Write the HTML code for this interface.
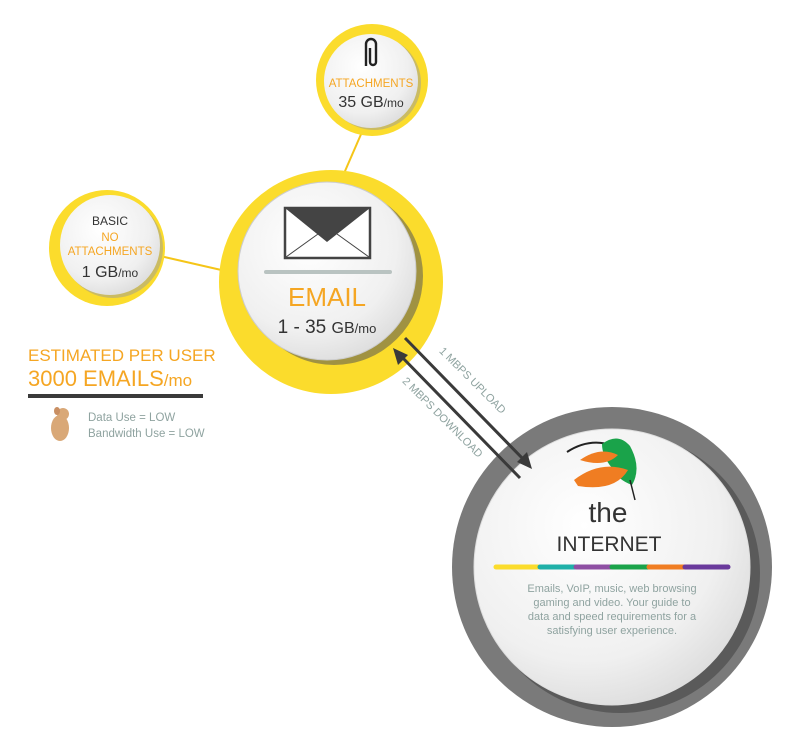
<!DOCTYPE html>
<html><head><meta charset="utf-8"><style>
html,body{margin:0;padding:0;background:#fff;}
svg{display:block;font-family:"Liberation Sans",sans-serif;}
</style></head><body>
<svg width="800" height="750" viewBox="0 0 800 750" xmlns="http://www.w3.org/2000/svg">
<defs>
<radialGradient id="wg" cx="40%" cy="35%" r="70%">
<stop offset="0" stop-color="#ffffff"/><stop offset="0.7" stop-color="#f0f0f0"/><stop offset="1" stop-color="#dcdcdc"/>
</radialGradient>
</defs>
<line x1="362" y1="132" x2="342" y2="178" stroke="#f5c518" stroke-width="2"/>
<line x1="160" y1="256" x2="230" y2="272" stroke="#f5c518" stroke-width="2"/>

<circle cx="372" cy="80" r="56" fill="#fbdc2c"/>
<circle cx="374" cy="83" r="47" fill="#999" opacity="0.5"/>
<circle cx="371" cy="81" r="47" fill="url(#wg)"/>
<path d="M366 66 V44 a5 5 0 0 1 10 0 V62 a3 3 0 0 1 -6 0 V48" fill="none" stroke="#222" stroke-width="2.4"/>
<text x="371" y="87" font-size="11.5" fill="#f5a623" text-anchor="middle">ATTACHMENTS</text>
<text x="371" y="107" font-size="16" fill="#333" text-anchor="middle">35 GB<tspan font-size="12">/mo</tspan></text>

<circle cx="107" cy="248" r="58" fill="#fbdc2c"/>
<circle cx="113" cy="248" r="50" fill="#999" opacity="0.5"/>
<circle cx="110" cy="245" r="50" fill="url(#wg)"/>
<text x="110" y="225" font-size="12" fill="#333" text-anchor="middle">BASIC</text>
<text x="110" y="241" font-size="11.5" fill="#f5a623" text-anchor="middle">NO</text>
<text x="110" y="255" font-size="11.5" fill="#f5a623" text-anchor="middle">ATTACHMENTS</text>
<text x="110" y="277" font-size="16" fill="#333" text-anchor="middle">1 GB<tspan font-size="12">/mo</tspan></text>

<circle cx="331" cy="282" r="112" fill="#fbdc2c"/>
<circle cx="334" cy="276" r="89" fill="#555" opacity="0.55"/>
<circle cx="327" cy="271" r="89" fill="url(#wg)" stroke="#ccc" stroke-width="1"/>
<rect x="285" y="208" width="85" height="50" fill="#fff" stroke="#444" stroke-width="2.5"/>
<path d="M285 208 L327 242 L370 208 Z" fill="#444"/>
<path d="M286 257 L318 234 M369 257 L337 234" stroke="#444" stroke-width="1"/>
<line x1="266" y1="272" x2="390" y2="272" stroke="#b9c3c1" stroke-width="4" stroke-linecap="round"/>
<text x="327" y="306" font-size="26" fill="#f5a623" text-anchor="middle">EMAIL</text>
<text x="327" y="333" font-size="19" fill="#333" text-anchor="middle">1 - 35 <tspan font-size="16">GB</tspan><tspan font-size="13">/mo</tspan></text>

<circle cx="612" cy="567" r="160" fill="#7a7a7a"/>
<circle cx="620" cy="573" r="140" fill="#444" opacity="0.6"/>
<circle cx="612" cy="567" r="138" fill="url(#wg)" stroke="#ddd"/>
<path d="M567 452 Q590 437 614 446" stroke="#222" stroke-width="2" fill="none"/>
<path d="M602 444 Q618 432 630 446 Q642 468 632 485 Q618 480 612 468 Q602 456 602 444Z" fill="#1aa34a"/>
<path d="M580 460 Q600 446 618 455 Q605 468 580 460Z" fill="#f07d22"/>
<path d="M574 480 Q600 460 628 470 Q615 492 578 486Z" fill="#f07d22"/>
<path d="M630 480 L635 500" stroke="#222" stroke-width="1.5"/>
<text x="608" y="522" font-size="28" fill="#333" text-anchor="middle">the</text>
<text x="609" y="551" font-size="21" fill="#333" text-anchor="middle">INTERNET</text>
<g stroke-width="5" stroke-linecap="round">
<line x1="496" y1="567" x2="538" y2="567" stroke="#fbdc2c"/>
<line x1="540" y1="567" x2="575" y2="567" stroke="#1fb0a8"/>
<line x1="576" y1="567" x2="611" y2="567" stroke="#8e4fa3"/>
<line x1="612" y1="567" x2="648" y2="567" stroke="#1aa34a"/>
<line x1="649" y1="567" x2="684" y2="567" stroke="#f07d22"/>
<line x1="685" y1="567" x2="728" y2="567" stroke="#6a3a9c"/>
</g>
<g font-size="11" fill="#8fa3a0" text-anchor="middle">
<text x="612" y="592">Emails, VoIP, music, web browsing</text>
<text x="612" y="606">gaming and video. Your guide to</text>
<text x="612" y="620">data and speed requirements for a</text>
<text x="612" y="634">satisfying user experience.</text>
</g>

<line x1="405" y1="338" x2="526" y2="462" stroke="#3a3a3a" stroke-width="3"/>
<path d="M532 469 L517 462 L527 452 Z" fill="#3a3a3a"/>
<line x1="520" y1="478" x2="399" y2="354" stroke="#3a3a3a" stroke-width="3"/>
<path d="M393 348 L408 355 L398 365 Z" fill="#3a3a3a"/>
<text x="470" y="383" font-size="11" fill="#8fa3a0" text-anchor="middle" transform="rotate(45 470 383)">1 MBPS UPLOAD</text>
<text x="440" y="420" font-size="11" fill="#8fa3a0" text-anchor="middle" transform="rotate(45 440 420)">2 MBPS DOWNLOAD</text>

<text x="28" y="361" font-size="17" fill="#f5a623">ESTIMATED PER USER</text>
<text x="28" y="386" font-size="22" fill="#f5a623">3000 EMAILS<tspan font-size="17">/mo</tspan></text>
<rect x="28" y="394" width="175" height="4" fill="#3a3a3a"/>
<ellipse cx="60" cy="428" rx="9" ry="13" fill="#d9a877"/>
<circle cx="63" cy="414" r="6" fill="#d9a877"/>
<ellipse cx="57" cy="411" rx="3" ry="4" fill="#c98f63"/>
<text x="88" y="421" font-size="11.5" fill="#8fa3a0">Data Use = LOW</text>
<text x="88" y="437" font-size="11.5" fill="#8fa3a0">Bandwidth Use = LOW</text>
</svg>
</body></html>
